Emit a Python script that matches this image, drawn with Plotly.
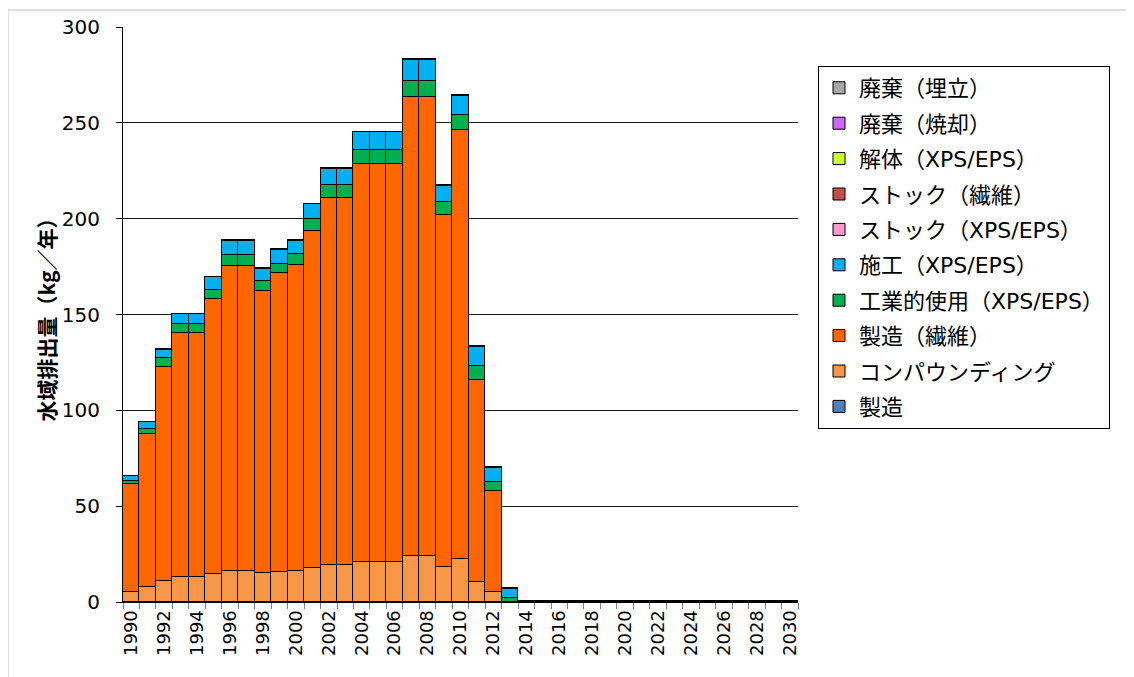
import plotly.graph_objects as go

years = list(range(1990, 2031))

# stacked series (bottom -> top), kg/year
seizo = [0.0] * 41
compounding = [5.4, 8.0, 11.1, 12.9, 12.9, 14.4, 16.0, 16.0, 15.0, 15.5, 16.0, 17.7,
               19.1, 19.1, 20.9, 20.9, 20.9, 23.8, 23.8, 18.3, 22.4, 10.3, 5.2, 0.0] + [0.0] * 17
seizo_sen_i = [56.0, 79.8, 111.7, 127.6, 127.6, 143.5, 159.5, 159.5, 147.4, 156.0, 159.7, 175.7,
               191.8, 191.8, 207.6, 207.6, 207.6, 239.8, 239.8, 183.6, 223.7, 105.7, 52.5, 0.0] + [0.0] * 17
kogyo = [1.9, 2.6, 4.3, 4.5, 4.5, 5.1, 5.8, 5.8, 5.2, 5.0, 5.7, 6.3,
         6.7, 6.7, 7.2, 7.2, 7.2, 8.4, 8.4, 6.6, 7.8, 7.1, 4.9, 2.1] + [0.0] * 17
seko = [2.3, 3.3, 4.4, 5.1, 5.1, 6.4, 7.1, 7.1, 6.2, 7.2, 7.1, 7.8,
        8.5, 8.5, 9.3, 9.3, 9.3, 10.8, 10.8, 8.7, 10.1, 9.9, 7.5, 4.8] + [0.0] * 17
stock_xps = [0.0] * 41
stock_sen_i = [0.0] * 41
kaitai = [0.0] * 41
haiki_shokyaku = [0.0] * 41
haiki_umetate = [0.4] * 24 + [0.3] * 17

series = [
    ("製造", seizo, "#4F81BD"),
    ("コンパウンディング", compounding, "#F79646"),
    ("製造（繊維）", seizo_sen_i, "#FF6600"),
    ("工業的使用（XPS/EPS）", kogyo, "#00B050"),
    ("施工（XPS/EPS）", seko, "#00B0F0"),
    ("ストック（XPS/EPS）", stock_xps, "#FF99CC"),
    ("ストック（繊維）", stock_sen_i, "#C0504D"),
    ("解体（XPS/EPS）", kaitai, "#CCFF33"),
    ("廃棄（焼却）", haiki_shokyaku, "#CC66FF"),
    ("廃棄（埋立）", haiki_umetate, "#A6A6A6"),
]

fig = go.Figure()
for i, (name, vals, col) in enumerate(series):
    fig.add_trace(go.Bar(
        x=years, y=vals, name=name, legendgroup=f"g{i}", legendrank=100 - i,
        marker=dict(color=col, line=dict(color="#000000", width=1)),
    ))

W, H = 1134, 677
L, T = 115, 19
pw, ph = 675, 575
R, B = W - L - pw, H - T - ph
bottom = T + ph

fig.update_layout(
    width=W, height=H,
    margin=dict(l=L, r=R, t=T, b=B, autoexpand=False),
    barmode="stack", bargap=0,
    paper_bgcolor="white", plot_bgcolor="white",
    font=dict(family="DejaVu Sans, Noto Sans CJK JP", color="#000000"),
    legend=dict(
        x=(810 - L) / pw, y=(bottom - 58) / ph, xanchor="left", yanchor="top",
        traceorder="grouped", tracegroupgap=3.8,
        bordercolor="#000000", borderwidth=1, bgcolor="white",
        font=dict(family="DejaVu Sans, Noto Sans CJK JP", size=22, color="#000000"),
    ),
    xaxis=dict(
        automargin=False,
        range=[1989.5, 2030.5],
        tickvals=years[::2], ticktext=[str(y) for y in years[::2]],
        tickangle=-90, ticks="", showgrid=False,
        showline=True, linecolor="#000000", linewidth=1,
        tickfont=dict(family="DejaVu Sans", size=18, color="#000000"),
        minor=dict(tick0=1989.5, dtick=1, ticks="outside", ticklen=6,
                   tickcolor="#808080", showgrid=False),
    ),
    yaxis=dict(
        automargin=False,
        range=[0, 300], tickvals=[0, 50, 100, 150, 200, 250, 300],
        ticks="outside", ticklen=6, tickcolor="#000000",
        ticklabelstandoff=12,
        showline=True, linecolor="#000000", linewidth=1,
        showgrid=True, gridcolor="#1a1a1a", gridwidth=1, zeroline=False,
        tickfont=dict(family="DejaVu Sans", size=20, color="#000000"),
        title=dict(text="<b>水域排出量（kg／年）</b>", standoff=0,
                   font=dict(family="Noto Sans CJK JP", size=21, color="#000000")),
    ),
    shapes=[dict(type="rect", xref="paper", yref="paper",
                 x0=(0 - L) / pw, x1=(W + 20 - L) / pw,
                 y0=(bottom - (H + 20)) / ph, y1=(bottom - 2) / ph,
                 line=dict(color="#BFBFBF", width=1), fillcolor="rgba(0,0,0,0)",
                 layer="below")],
)

fig.write_html("out.html")
